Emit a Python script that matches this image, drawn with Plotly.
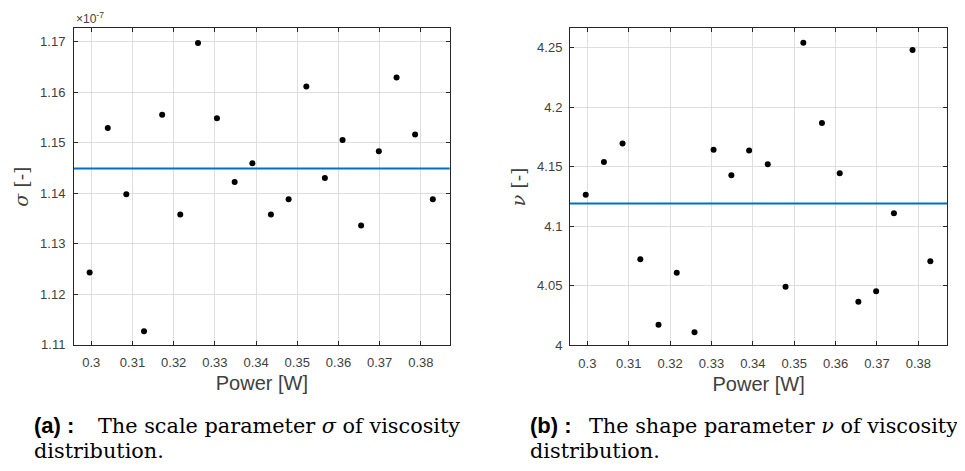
import plotly.graph_objects as go

# ---------------- data ----------------
power_w = [0.2996, 0.3040, 0.3085, 0.3128, 0.3172, 0.3216, 0.3259, 0.3305, 0.3348, 0.3391,
           0.3436, 0.3479, 0.3522, 0.3567, 0.3610, 0.3655, 0.3698, 0.3741, 0.3786, 0.3829]

# scale parameter sigma, in units of 1e-7
sigma_e7 = [1.1243, 1.1529, 1.1398, 1.1127, 1.1555, 1.1358, 1.1697, 1.1548, 1.1422, 1.1459,
            1.1358, 1.1388, 1.1611, 1.1430, 1.1505, 1.1336, 1.1483, 1.1629, 1.1516, 1.1388]
sigma_mean_e7 = 1.1449

# shape parameter nu
nu = [4.1266, 4.1541, 4.1695, 4.0723, 4.0173, 4.0611, 4.0112, 4.1643, 4.1428, 4.1637,
      4.1521, 4.0492, 4.2541, 4.1868, 4.1445, 4.0368, 4.0456, 4.1110, 4.2480, 4.0706]
nu_mean = 4.1191

x_ticks = [0.30, 0.31, 0.32, 0.33, 0.34, 0.35, 0.36, 0.37, 0.38]
x_tick_labels = ["0.3", "0.31", "0.32", "0.33", "0.34", "0.35", "0.36", "0.37", "0.38"]
sigma_ticks = [1.11, 1.12, 1.13, 1.14, 1.15, 1.16, 1.17]
sigma_tick_labels = ["1.11", "1.12", "1.13", "1.14", "1.15", "1.16", "1.17"]
nu_ticks = [4.0, 4.05, 4.1, 4.15, 4.2, 4.25]
nu_tick_labels = ["4", "4.05", "4.1", "4.15", "4.2", "4.25"]

x_range = [0.2958, 0.3870]
sigma_range = [1.11, 1.1726]
nu_range = [4.0, 4.2662]

# ---------------- styling ----------------
W, H = 965, 471
AX = "#262626"
TICK = "#404040"
GRID = "#dedede"
BLUE = "#0072BD"
SANS = "Arial"
SERIF = "DejaVu Serif"


def px(x):
    return x / W


def py(y):
    return 1 - y / H


fig = go.Figure()
fig.add_trace(go.Scatter(x=power_w, y=sigma_e7, mode="markers", xaxis="x", yaxis="y",
                         marker=dict(color="black", size=6, symbol="circle"),
                         showlegend=False, name="sigma"))
fig.add_trace(go.Scatter(x=power_w, y=nu, mode="markers", xaxis="x2", yaxis="y2",
                         marker=dict(color="black", size=6, symbol="circle"),
                         showlegend=False, name="nu"))

common_axis = dict(
    showline=True, linecolor=AX, linewidth=1, mirror="ticks",
    ticks="inside", ticklen=4, tickcolor=AX, tickwidth=1,
    showgrid=True, gridcolor=GRID, gridwidth=1, zeroline=False,
    tickfont=dict(family=SANS, size=13, color=TICK),
)

fig.update_layout(
    width=W, height=H,
    margin=dict(l=0, r=0, t=0, b=0),
    paper_bgcolor="white", plot_bgcolor="white",
    xaxis=dict(domain=[px(66), px(441.7)], anchor="y", range=x_range,
               tickvals=x_ticks, ticktext=x_tick_labels, ticklabelstandoff=6,
               title=dict(text="Power [W]", font=dict(family=SANS, size=20, color=TICK), standoff=6),
               **common_axis),
    yaxis=dict(domain=[py(342.7), py(20.7)], anchor="x", range=sigma_range,
               tickvals=sigma_ticks, ticktext=sigma_tick_labels, ticklabelstandoff=5,
               title=dict(text="<i>σ</i> [-]", font=dict(family=SERIF, size=19, color=TICK), standoff=6),
               **common_axis),
    xaxis2=dict(domain=[px(562), px(939.3)], anchor="y2", range=x_range,
                tickvals=x_ticks, ticktext=x_tick_labels, ticklabelstandoff=6,
                title=dict(text="Power [W]", font=dict(family=SANS, size=20, color=TICK), standoff=6),
                **common_axis),
    yaxis2=dict(domain=[py(343.3), py(20.7)], anchor="x2", range=nu_range,
                tickvals=nu_ticks, ticktext=nu_tick_labels, ticklabelstandoff=4,
                title=dict(text="<i>ν</i> [-]", font=dict(family=SERIF, size=19, color=TICK), standoff=6),
                **common_axis),
)

# mean lines
fig.add_shape(type="line", xref="x domain", yref="y", x0=0, x1=1,
              y0=sigma_mean_e7, y1=sigma_mean_e7, line=dict(color=BLUE, width=2))
fig.add_shape(type="line", xref="x2 domain", yref="y2", x0=0, x1=1,
              y0=nu_mean, y1=nu_mean, line=dict(color=BLUE, width=2))

# exponent label
fig.add_annotation(xref="x domain", yref="y domain", x=0, y=1, xanchor="left", yanchor="bottom",
                   text="×10<sup>-7</sup>", showarrow=False,
                   font=dict(family=SANS, size=12, color=TICK))

# captions
CAP = 20.8
TAG = 22
def caption(x_label, x_text, tag, text):
    fig.add_annotation(xref="paper", yref="paper", x=px(x_label), y=py(425), xanchor="left",
                       yanchor="middle", text=f"<b>{tag} :</b>", showarrow=False,
                       font=dict(family=SANS, size=TAG, color="black"))
    fig.add_annotation(xref="paper", yref="paper", x=px(x_text), y=py(425), xanchor="left",
                       yanchor="middle", text=text, showarrow=False,
                       font=dict(family=SERIF, size=CAP, color="black"))
    fig.add_annotation(xref="paper", yref="paper", x=px(x_label), y=py(451), xanchor="left",
                       yanchor="middle", text="distribution.", showarrow=False,
                       font=dict(family=SERIF, size=CAP, color="black"))

caption(24, 88, "(a)", "The scale parameter <i>σ</i> of viscosity")
caption(519.5, 579, "(b)", "The shape parameter <i>ν</i> of viscosity")

fig.write_html("out.html")
